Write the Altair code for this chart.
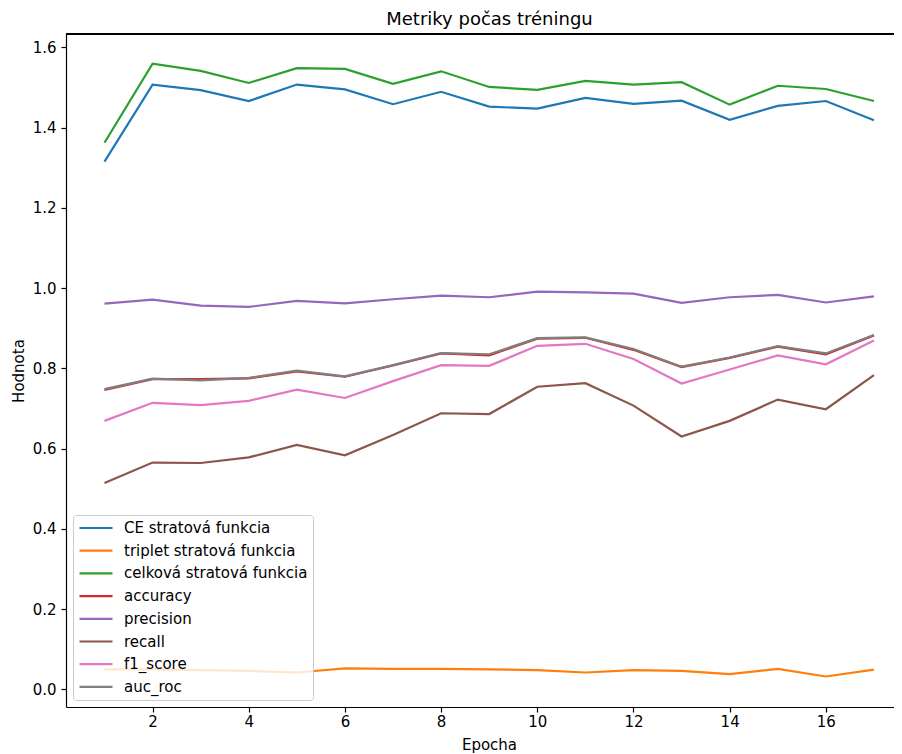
import altair as alt
import pandas as pd

epochs = list(range(1, 18))

series_names = [
    "CE stratová funkcia",
    "triplet stratová funkcia",
    "celková stratová funkcia",
    "accuracy",
    "precision",
    "recall",
    "f1_score",
    "auc_roc",
]
series_colors = ["#1f77b4", "#ff7f0e", "#2ca02c", "#d62728", "#9467bd", "#8c564b", "#e377c2", "#7f7f7f"]

ce_loss = [1.315, 1.507, 1.493, 1.466, 1.507, 1.495, 1.458, 1.489, 1.452, 1.447, 1.474, 1.459, 1.467, 1.419, 1.454, 1.466, 1.418]
triplet_loss = [0.050, 0.050, 0.048, 0.046, 0.042, 0.052, 0.051, 0.051, 0.050, 0.048, 0.042, 0.048, 0.046, 0.038, 0.051, 0.032, 0.049]
total_loss = [1.362, 1.559, 1.541, 1.511, 1.548, 1.546, 1.509, 1.540, 1.501, 1.494, 1.516, 1.507, 1.513, 1.457, 1.504, 1.496, 1.466]
accuracy = [0.746, 0.773, 0.773, 0.775, 0.792, 0.779, 0.807, 0.837, 0.832, 0.874, 0.876, 0.846, 0.803, 0.826, 0.854, 0.835, 0.882]
precision = [0.961, 0.971, 0.956, 0.953, 0.968, 0.962, 0.972, 0.981, 0.977, 0.991, 0.989, 0.986, 0.963, 0.977, 0.983, 0.964, 0.979]
recall = [0.514, 0.565, 0.564, 0.578, 0.609, 0.583, 0.634, 0.688, 0.686, 0.754, 0.763, 0.707, 0.630, 0.669, 0.722, 0.698, 0.783]
f1_score = [0.669, 0.714, 0.708, 0.719, 0.747, 0.726, 0.768, 0.808, 0.806, 0.856, 0.861, 0.823, 0.762, 0.797, 0.832, 0.810, 0.869]
auc_roc = [0.748, 0.774, 0.770, 0.776, 0.794, 0.780, 0.808, 0.838, 0.835, 0.875, 0.877, 0.848, 0.804, 0.827, 0.855, 0.837, 0.883]

x_ticks = [2, 4, 6, 8, 10, 12, 14, 16]
y_ticks = [0.0, 0.2, 0.4, 0.6, 0.8, 1.0, 1.2, 1.4, 1.6]

all_series = [ce_loss, triplet_loss, total_loss, accuracy, precision, recall, f1_score, auc_roc]
rows = []
for order, (name, vals) in enumerate(zip(series_names, all_series)):
    for e, v in zip(epochs, vals):
        rows.append({"Epocha": e, "Hodnota": v, "metrika": name, "poradie": order})
df = pd.DataFrame(rows)

FONT = "DejaVu Sans"
W, H = 828, 673

lines = alt.Chart(df).mark_line(strokeWidth=2.2, clip=True).encode(
    x=alt.X("Epocha:Q",
            scale=alt.Scale(domain=[0.2, 17.417], nice=False, zero=False),
            axis=alt.Axis(values=x_ticks, format="d", title="Epocha",
                          titleX=423, titleY=42.6, titleBaseline="alphabetic",
                          titleFontWeight="normal", titleFontSize=15)),
    y=alt.Y("Hodnota:Q",
            scale=alt.Scale(domain=[-0.044, 1.633], nice=False, zero=False),
            axis=alt.Axis(values=y_ticks, format=".1f", title="Hodnota",
                          titleX=-48, titleBaseline="middle",
                          titleFontWeight="normal", titleFontSize=15)),
    color=alt.Color("metrika:N",
                    scale=alt.Scale(domain=series_names, range=series_colors),
                    sort=series_names,
                    legend=alt.Legend(title=None, orient="bottom-left", offset=7,
                                      symbolType="stroke", symbolStrokeWidth=2.2,
                                      symbolSize=1089, labelFontSize=15, labelFont=FONT,
                                      labelColor="#000000", labelLimit=0,
                                      clipHeight=16,
                                      fillColor="rgba(255,255,255,0.8)",
                                      strokeColor="#cccccc", cornerRadius=3,
                                      padding=5, rowPadding=6.7, labelOffset=10)),
    order=alt.Order("poradie:Q"),
)

top_spine = alt.Chart(df).mark_rule(color="#000000", strokeWidth=1.2).encode(
    x=alt.value(0), x2=alt.value(W), y=alt.value(0)
)

chart = alt.layer(lines, top_spine).properties(
    width=W, height=H,
    title=alt.Title("Metriky počas tréningu", fontSize=18, font=FONT,
                    fontWeight="normal", color="#000000", anchor="middle",
                    frame="group", dx=9.5, offset=4),
    autosize=alt.AutoSizeParams(type="none"),
    padding={"left": 58, "top": 26, "right": 0, "bottom": 47},
).configure_view(stroke=None).configure_axis(
    grid=False, domainColor="#000000", domainWidth=1.2, tickColor="#000000",
    tickWidth=1.2, tickSize=5, labelPadding=5, labelFont=FONT, labelFontSize=15,
    labelColor="#000000", titleFont=FONT, titleColor="#000000",
).configure_axisX(labelFlush=False, labelPadding=2).configure_axisY(labelFlush=False)

chart.save("out.html", embed_options={"renderer": "svg", "actions": False})
